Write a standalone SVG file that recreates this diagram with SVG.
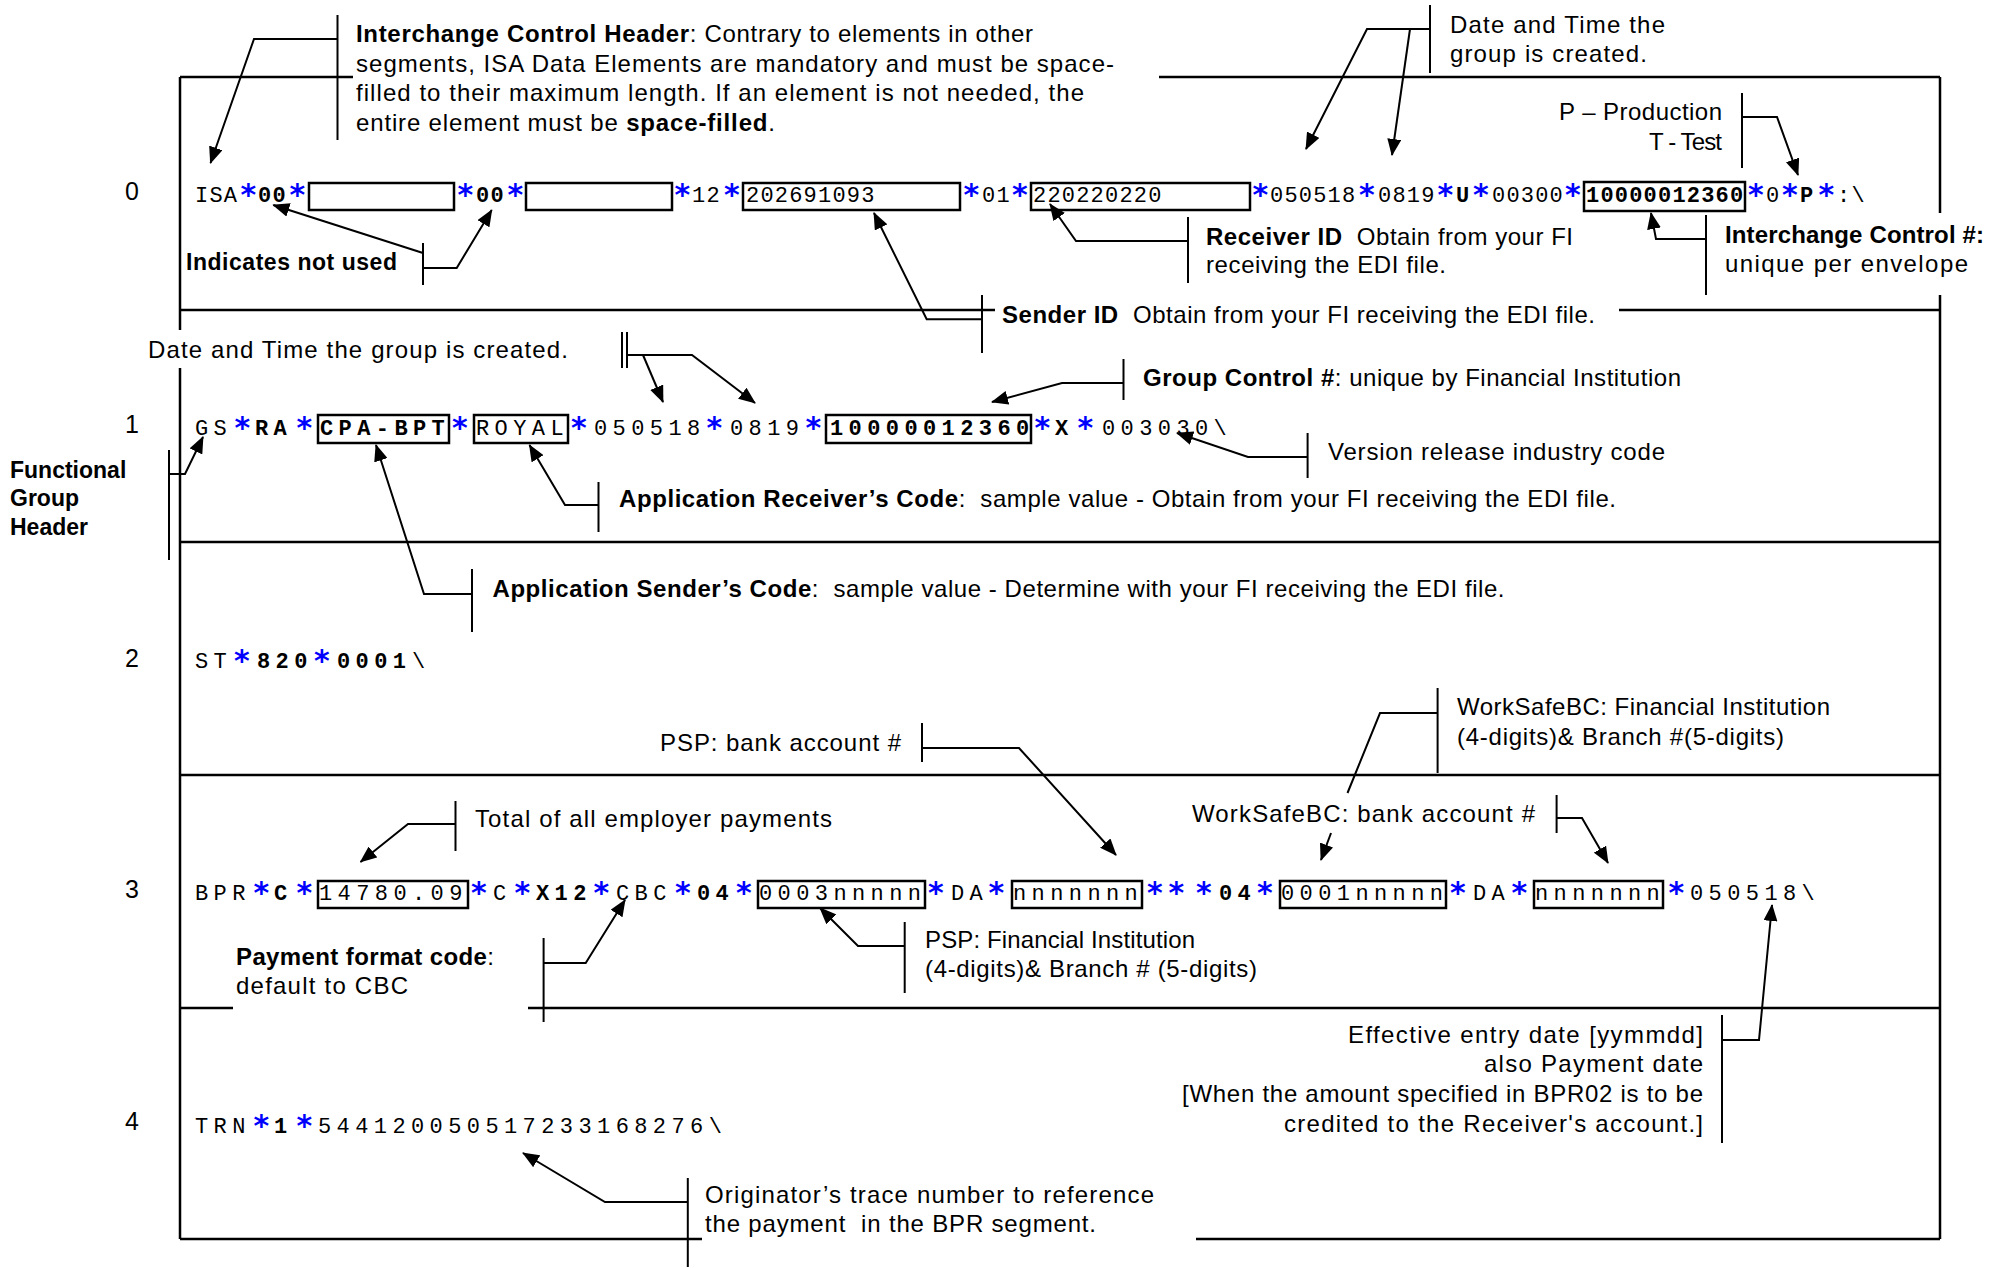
<svg xmlns="http://www.w3.org/2000/svg" width="2009" height="1268" viewBox="0 0 2009 1268">
<defs>
<marker id="ah" markerUnits="userSpaceOnUse" markerWidth="17" markerHeight="14" refX="16" refY="7" orient="auto"><path d="M0,0 L17,7 L0,14 z" fill="#000"/></marker>
<style>
.t{font-family:"Liberation Sans",Arial,sans-serif;font-size:24px;fill:#000}
.b{font-weight:bold}
.m{font-family:"Liberation Mono","Courier New",monospace;font-size:22px;fill:#000}
.m0{letter-spacing:1.2px}
.m1{letter-spacing:5.4px}
.s{font-family:"DejaVu Sans",sans-serif;font-weight:bold;font-size:30px;fill:#0000ff;baseline-shift:-3px;letter-spacing:0}
.lbl{font-family:"Liberation Sans",Arial,sans-serif;font-size:25px;fill:#000;text-anchor:middle}
.e{text-anchor:end}
.frame{stroke:#000;stroke-width:2.5;fill:none}
.box{stroke:#000;stroke-width:2.5;fill:#fff}
.c{stroke:#000;stroke-width:2;fill:none}
.a{marker-end:url(#ah)}
</style>
</defs>
<rect width="2009" height="1268" fill="#fff"/>
<g id="frame" class="frame">
<path d="M180,77 V330 M180,368 V1239"/>
<path d="M180,77 H353 M1159,77 H1940"/>
<path d="M1940,77 V213 M1940,295 V1239"/>
<path d="M180,310 H995 M1619,310 H1940"/>
<path d="M180,542 H1940"/>
<path d="M180,775 H1940"/>
<path d="M180,1008 H233 M528,1008 H1940"/>
<path d="M180,1239 H702 M1196,1239 H1940"/>
</g>
<g id="row-labels">
<text class="lbl" x="132" y="200">0</text>
<text class="lbl" x="132" y="433">1</text>
<text class="lbl" x="132" y="667">2</text>
<text class="lbl" x="132" y="898">3</text>
<text class="lbl" x="132" y="1130">4</text>
<text class="t b" x="10" y="478" style="font-size:23px">Functional</text>
<text class="t b" x="10" y="506" style="font-size:23px">Group</text>
<text class="t b" x="10" y="535" style="font-size:23px">Header</text>
</g>
<g id="seg-ISA">
<rect class="box" x="309" y="183" width="145" height="27"/>
<rect class="box" x="526" y="183" width="146" height="27"/>
<rect class="box" x="743" y="183" width="217" height="27"/>
<rect class="box" x="1031" y="183" width="219" height="27"/>
<rect class="box" x="1584" y="182" width="161" height="29"/>
<text class="m m0" y="202"><tspan x="195">ISA</tspan><tspan class="s" x="240.5">*</tspan><tspan x="258" class="b">00</tspan><tspan class="s" x="289.5">*</tspan><tspan class="s" x="457.5">*</tspan><tspan x="476" class="b">00</tspan><tspan class="s" x="507.5">*</tspan><tspan class="s" x="674.5">*</tspan><tspan x="692">12</tspan><tspan class="s" x="724">*</tspan><tspan x="746">202691093</tspan><tspan class="s" x="963.5">*</tspan><tspan x="982">01</tspan><tspan class="s" x="1012">*</tspan><tspan x="1033">220220220</tspan><tspan class="s" x="1252.5">*</tspan><tspan x="1270">050518</tspan><tspan class="s" x="1359">*</tspan><tspan x="1378">0819</tspan><tspan class="s" x="1437.5">*</tspan><tspan x="1456" class="b">U</tspan><tspan class="s" x="1473">*</tspan><tspan x="1492">00300</tspan><tspan class="s" x="1565">*</tspan><tspan x="1586" class="b">10000012360</tspan><tspan class="s" x="1748">*</tspan><tspan x="1766">0</tspan><tspan class="s" x="1782">*</tspan><tspan x="1800" class="b">P</tspan><tspan class="s" x="1818.5">*</tspan><tspan x="1837">:\</tspan></text>
</g>
<g id="seg-GS">
<rect class="box" x="318" y="415" width="131" height="28"/>
<rect class="box" x="474" y="415" width="94" height="28"/>
<rect class="box" x="826" y="415" width="205" height="28"/>
<text class="m m1" y="435"><tspan x="195">GS</tspan><tspan class="s" x="234.5">*</tspan><tspan x="255" class="b">RA</tspan><tspan class="s" x="296.5">*</tspan><tspan x="320" class="b">CPA-BPT</tspan><tspan class="s" x="452">*</tspan><tspan x="476">ROYAL</tspan><tspan class="s" x="571">*</tspan><tspan x="594">050518</tspan><tspan class="s" x="706.5">*</tspan><tspan x="730">0819</tspan><tspan class="s" x="805.5">*</tspan><tspan x="830" class="b">10000012360</tspan><tspan class="s" x="1034.5">*</tspan><tspan x="1055" class="b">X</tspan><tspan class="s" x="1077.5">*</tspan><tspan x="1102">003030\</tspan></text>
</g>
<g id="seg-ST">
<text class="m m1" y="668"><tspan x="195">ST</tspan><tspan class="s" x="234">*</tspan><tspan x="257" class="b">820</tspan><tspan class="s" x="314">*</tspan><tspan x="337" class="b">0001</tspan><tspan x="412">\</tspan></text>
</g>
<g id="seg-BPR">
<rect class="box" x="318" y="881" width="150" height="27"/>
<rect class="box" x="758" y="881" width="167" height="27"/>
<rect class="box" x="1012" y="881" width="130" height="27"/>
<rect class="box" x="1280" y="881" width="166" height="27"/>
<rect class="box" x="1534" y="881" width="129" height="27"/>
<text class="m m1" y="900"><tspan x="195">BPR</tspan><tspan class="s" x="253.5">*</tspan><tspan x="274" class="b">C</tspan><tspan class="s" x="296.5">*</tspan><tspan x="319">14780.09</tspan><tspan class="s" x="471">*</tspan><tspan x="493">C</tspan><tspan class="s" x="514.5">*</tspan><tspan x="536" class="b">X12</tspan><tspan class="s" x="593.5">*</tspan><tspan x="616">CBC</tspan><tspan class="s" x="675">*</tspan><tspan x="697" class="b">04</tspan><tspan class="s" x="736">*</tspan><tspan x="759">0003nnnnn</tspan><tspan class="s" x="928">*</tspan><tspan x="951">DA</tspan><tspan class="s" x="988.5">*</tspan><tspan x="1013">nnnnnnn</tspan><tspan class="s" x="1147">*</tspan><tspan class="s" x="1168.5">*</tspan><tspan class="s" x="1196">*</tspan><tspan x="1219" class="b">04</tspan><tspan class="s" x="1257">*</tspan><tspan x="1281">0001nnnnn</tspan><tspan class="s" x="1450">*</tspan><tspan x="1473">DA</tspan><tspan class="s" x="1511.5">*</tspan><tspan x="1535">nnnnnnn</tspan><tspan class="s" x="1668.5">*</tspan><tspan x="1690">050518\</tspan></text>
</g>
<g id="seg-TRN">
<text class="m m1" y="1133"><tspan x="195">TRN</tspan><tspan class="s" x="253.5">*</tspan><tspan x="274" class="b">1</tspan><tspan class="s" x="296.5">*</tspan><tspan x="318">544120050517233168276\</tspan></text>
</g>
<g id="note-ich">
<text class="t" x="356" y="42" textLength="677"><tspan class="b">Interchange Control Header</tspan>: Contrary to elements in other</text>
<text class="t" x="356" y="71.5" textLength="758">segments, ISA Data Elements are mandatory and must be space-</text>
<text class="t" x="356" y="101" textLength="728">filled to their maximum length. If an element is not needed, the</text>
<text class="t" x="356" y="130.5" textLength="419">entire element must be <tspan class="b">space-filled</tspan>.</text>
</g>
<g id="note-isa-date">
<text class="t" x="1450" y="33" textLength="215">Date and Time the</text>
<text class="t" x="1450" y="62" textLength="197">group is created.</text>
</g>
<g id="note-pt">
<text class="t e" x="1722" y="120" textLength="163">P – Production</text>
<text class="t e" x="1722" y="150" textLength="73">T - Test</text>
</g>
<g id="note-notused">
<text class="t b" x="186" y="270" textLength="211" style="font-size:23px">Indicates not used</text>
</g>
<g id="note-receiver">
<text class="t" x="1206" y="245" textLength="367"><tspan class="b">Receiver ID</tspan>&#160; Obtain from your FI</text>
<text class="t" x="1206" y="273" textLength="240">receiving the EDI file.</text>
</g>
<g id="note-icn">
<text class="t b" x="1725" y="243" textLength="259">Interchange Control #:</text>
<text class="t" x="1725" y="272" textLength="243">unique per envelope</text>
</g>
<g id="note-sender">
<text class="t" x="1002" y="323" textLength="593"><tspan class="b">Sender ID</tspan>&#160; Obtain from your FI receiving the EDI file.</text>
</g>
<g id="note-gs-date">
<text class="t" x="148" y="358" textLength="420">Date and Time the group is created.</text>
</g>
<g id="note-gcn">
<text class="t" x="1143" y="386" textLength="538"><tspan class="b">Group Control #</tspan>: unique by Financial Institution</text>
</g>
<g id="note-version">
<text class="t" x="1328" y="460" textLength="337">Version release industry code</text>
</g>
<g id="note-apprecv">
<text class="t" x="619" y="507" textLength="997"><tspan class="b">Application Receiver’s Code</tspan>:&#160; sample value - Obtain from your FI receiving the EDI file.</text>
</g>
<g id="note-appsend">
<text class="t" x="492.5" y="597" textLength="1012"><tspan class="b">Application Sender’s Code</tspan>:&#160; sample value - Determine with your FI receiving the EDI file.</text>
</g>
<g id="note-pspacct">
<text class="t" x="660" y="751" textLength="241">PSP: bank account #</text>
</g>
<g id="note-wsbc-fi">
<text class="t" x="1457" y="715" textLength="373">WorkSafeBC: Financial Institution</text>
<text class="t" x="1457" y="745" textLength="327">(4-digits)&amp; Branch #(5-digits)</text>
</g>
<g id="note-total">
<text class="t" x="475" y="827" textLength="357">Total of all employer payments</text>
</g>
<g id="note-wsbc-acct">
<text class="t" x="1192" y="822" textLength="343">WorkSafeBC: bank account #</text>
</g>
<g id="note-format">
<text class="t b" x="236" y="965" textLength="258">Payment format code<tspan font-weight="normal">:</tspan></text>
<text class="t" x="236" y="994" textLength="172">default to CBC</text>
</g>
<g id="note-psp-fi">
<text class="t" x="925" y="948" textLength="270">PSP: Financial Institution</text>
<text class="t" x="925" y="977" textLength="332">(4-digits)&amp; Branch # (5-digits)</text>
</g>
<g id="note-effective">
<text class="t e" x="1703" y="1043" textLength="355">Effective entry date [yymmdd]</text>
<text class="t e" x="1703" y="1072" textLength="219">also Payment date</text>
<text class="t e" x="1703" y="1102" textLength="521">[When the amount specified in BPR02 is to be</text>
<text class="t e" x="1703" y="1132" textLength="419">credited to the Receiver's account.]</text>
</g>
<g id="note-trace">
<text class="t" x="705" y="1203" textLength="449">Originator’s trace number to reference</text>
<text class="t" x="705" y="1232" textLength="391">the payment&#160; in the BPR segment.</text>
</g>
<g id="connectors" class="c">
<path d="M337.5,15 V140"/><polyline class="a" points="337.5,39 254,39 210.5,163"/>
<path d="M1430,5 V73"/><polyline class="a" points="1430,29 1367,29 1306,149"/><polyline class="a" points="1410,29 1392,155"/>
<path d="M1742,93 V168"/><polyline class="a" points="1742,117 1777,117 1798,175"/>
<path d="M423,243 V285"/><polyline class="a" points="423,268 456.7,268 491.7,210"/><polyline class="a" points="423,253 273.3,205"/>
<path d="M1188,217 V283"/><polyline class="a" points="1188,241 1076,241 1050,204"/>
<path d="M1706,215 V295"/><polyline class="a" points="1706,239 1656,239 1651,213"/>
<path d="M982,295 V353"/><polyline class="a" points="982,319.3 926.7,319.3 874,213"/>
<path d="M622,332 V368 M627,332 V368"/><polyline class="a" points="627,355 692,355 755,403"/><polyline class="a" points="643,355 663,402"/>
<path d="M1123.5,359 V400"/><polyline class="a" points="1123.5,383 1062,383 992,402"/>
<path d="M1307.6,433 V478"/><polyline class="a" points="1307.6,457 1248,457 1177,433"/>
<path d="M598.5,482 V532"/><polyline class="a" points="598.5,505 565,505 529.5,445"/>
<path d="M472,569 V632"/><polyline class="a" points="472,594 424,594 376,445"/>
<path d="M922,723 V762"/><polyline class="a" points="922,748 1019,748 1116,855"/>
<path d="M1437.6,688 V773"/><polyline points="1437.6,713 1380,713 1347.5,793"/><polyline class="a" points="1331,833 1321,860"/>
<path d="M455.5,801 V851"/><polyline class="a" points="455.5,824 408,824 360.5,862"/>
<path d="M1556.6,795 V833"/><polyline class="a" points="1556.6,818 1582,818 1608,863"/>
<path d="M543.6,938 V1022"/><polyline class="a" points="543.6,963 585.7,963 625,900"/>
<path d="M904.7,922 V993"/><polyline class="a" points="904.7,946 858,946 820,908"/>
<path d="M1722,1015 V1143"/><polyline class="a" points="1722,1040 1759,1040 1772,905"/>
<path d="M687.8,1178 V1267"/><polyline class="a" points="687.8,1202 605,1202 523,1153"/>
<path d="M169,450 V560"/><polyline class="a" points="169,474 185,474 203,437"/>
</g>
</svg>
